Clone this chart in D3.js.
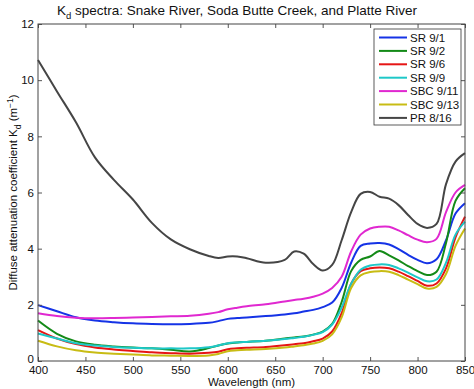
<!DOCTYPE html>
<html>
<head>
<meta charset="utf-8">
<script src="https://cdn.jsdelivr.net/npm/d3@7"></script>
<style>
  body { margin: 0; background: #fff; }
  svg { font-family: "Liberation Sans", Arial, sans-serif; }
</style>
</head>
<body>
<svg id="chart"></svg>
<script>
// wavelength grid (nm) shared by every series
const wavelengths = [400, 420, 440, 460, 480, 500, 520, 540, 560, 580, 590, 600, 610, 620, 640, 660, 670, 680, 690, 700,
  710, 720, 730, 740, 750, 760, 770, 780, 790, 800, 810, 820, 830, 840, 850]

const sr91 = [1.99, 1.77, 1.56, 1.44, 1.38, 1.34, 1.32, 1.31, 1.32, 1.36, 1.42, 1.50, 1.53, 1.55, 1.60, 1.66, 1.70, 1.76, 1.82, 1.92,
  2.08, 2.60, 3.50, 4.10, 4.18, 4.20, 4.15, 3.98, 3.78, 3.60, 3.48, 3.62, 4.30, 5.25, 5.62]
const sr92 = [1.44, 0.97, 0.70, 0.58, 0.52, 0.48, 0.45, 0.40, 0.34, 0.46, 0.55, 0.62, 0.66, 0.68, 0.72, 0.80, 0.84, 0.87, 0.94, 1.05,
  1.32, 2.10, 3.20, 3.60, 3.72, 3.92, 3.76, 3.58, 3.38, 3.20, 3.06, 3.18, 4.20, 5.70, 6.15]
const sr96 = [1.10, 0.80, 0.60, 0.48, 0.41, 0.36, 0.31, 0.28, 0.26, 0.29, 0.33, 0.42, 0.45, 0.47, 0.50, 0.56, 0.60, 0.63, 0.70, 0.80,
  1.05, 1.70, 2.75, 3.20, 3.30, 3.33, 3.30, 3.18, 3.02, 2.85, 2.68, 2.76, 3.30, 4.40, 5.14]
const sr99 = [0.98, 0.80, 0.63, 0.55, 0.50, 0.47, 0.45, 0.45, 0.45, 0.49, 0.55, 0.63, 0.66, 0.68, 0.72, 0.78, 0.82, 0.86, 0.93, 1.03,
  1.30, 1.90, 2.75, 3.25, 3.40, 3.44, 3.42, 3.30, 3.15, 2.98, 2.84, 2.90, 3.50, 4.50, 4.96]
const sbc911 = [1.70, 1.60, 1.54, 1.52, 1.53, 1.55, 1.57, 1.59, 1.61, 1.68, 1.74, 1.84, 1.90, 1.95, 2.02, 2.12, 2.17, 2.22, 2.29, 2.40,
  2.60, 3.00, 3.90, 4.50, 4.72, 4.78, 4.78, 4.65, 4.48, 4.32, 4.23, 4.35, 5.30, 6.00, 6.27]
const sbc913 = [0.72, 0.52, 0.38, 0.30, 0.26, 0.23, 0.20, 0.19, 0.18, 0.20, 0.25, 0.35, 0.38, 0.40, 0.43, 0.48, 0.52, 0.56, 0.62, 0.72,
  0.95, 1.55, 2.60, 3.05, 3.17, 3.20, 3.18, 3.06, 2.90, 2.74, 2.58, 2.64, 3.10, 4.10, 4.72]
const pr816 = [10.72, 9.60, 8.50, 7.25, 6.45, 5.75, 4.92, 4.33, 3.98, 3.74, 3.67, 3.72, 3.72, 3.66, 3.50, 3.60, 3.90, 3.82, 3.45, 3.22,
  3.42, 4.30, 5.30, 5.95, 6.02, 5.85, 5.78, 5.55, 5.20, 4.88, 4.74, 4.88, 6.30, 7.10, 7.40]

const seriesNames = ['SR 9/1', 'SR 9/2', 'SR 9/6', 'SR 9/9', 'SBC 9/11', 'SBC 9/13', 'PR 8/16']
const seriesValues = [sr91, sr92, sr96, sr99, sbc911, sbc913, pr816]
const seriesColors = ['#1533e6', '#138a17', '#e61515', '#1ec8c8', '#e028d0', '#c8bc14', '#454545']

const xTicks = [400, 450, 500, 550, 600, 650, 700, 750, 800, 850]
const yTicks = [0, 2, 4, 6, 8, 10, 12]

const W = 474, H = 389
const m = { left: 38, right: 9, top: 24, bottom: 28 }
const w = W - m.left - m.right
const h = H - m.top - m.bottom

const svg = d3.select('#chart').attr('width', W).attr('height', H)

const xScale = d3.scaleLinear().domain([400, 850]).range([0, w])
const yScale = d3.scaleLinear().domain([0, 12]).range([h, 0])

const g = svg.append('g').attr('transform', `translate(${m.left},${m.top})`)

// curves
const line = d3.line()
  .x((d, i) => xScale(wavelengths[i]))
  .y(d => yScale(d))
  .curve(d3.curveCatmullRom)

g.selectAll('path.series')
  .data(seriesValues)
  .enter()
  .append('path')
  .attr('class', 'series')
  .attr('d', d => line(d))
  .attr('fill', 'none')
  .attr('stroke', (d, i) => seriesColors[i])
  .attr('stroke-width', 2)

// axes, matlab-like box with inner ticks
const styleAxis = sel => {
  sel.select('.domain').remove()
  sel.selectAll('line').attr('stroke', '#555')
  sel.selectAll('text').attr('fill', '#111').style('font-size', '11.5px')
}

g.append('g')
  .attr('transform', `translate(0,${h})`)
  .call(d3.axisBottom(xScale).tickValues(xTicks).tickSize(-4).tickPadding(5))
  .call(styleAxis)
g.append('g')
  .call(d3.axisTop(xScale).tickValues(xTicks).tickSize(-4).tickFormat(''))
  .call(styleAxis)
g.append('g')
  .call(d3.axisLeft(yScale).tickValues(yTicks).tickSize(-4).tickPadding(4))
  .call(styleAxis)
  .selectAll('.tick text')
  .attr('dy', d => d === 0 ? '0.15em' : '0.32em')
g.append('g')
  .attr('transform', `translate(${w},0)`)
  .call(d3.axisRight(yScale).tickValues(yTicks).tickSize(-4).tickFormat(''))
  .call(styleAxis)

g.append('rect')
  .attr('width', w)
  .attr('height', h)
  .attr('fill', 'none')
  .attr('stroke', '#444')
  .attr('stroke-width', 1)

// title
const title = svg.append('text')
  .attr('x', W / 2)
  .attr('y', 15)
  .attr('text-anchor', 'middle')
  .style('font-size', '13.5px')
  .attr('fill', '#111')
title.append('tspan').text('K')
title.append('tspan').attr('dy', 4).style('font-size', '9.5px').text('d')
title.append('tspan').attr('dy', -4).text(' spectra: Snake River, Soda Butte Creek, and Platte River')

// axis labels
svg.append('text')
  .attr('x', m.left + w / 2)
  .attr('y', H - 3)
  .attr('text-anchor', 'middle')
  .style('font-size', '11.5px')
  .attr('fill', '#111')
  .text('Wavelength (nm)')

const yLab = svg.append('text')
  .attr('transform', `translate(17,${m.top + h / 2}) rotate(-90)`)
  .attr('text-anchor', 'middle')
  .style('font-size', '11.5px')
  .attr('fill', '#111')
yLab.append('tspan').text('Diffuse attenuation coefficient K')
yLab.append('tspan').attr('dy', 3.5).style('font-size', '8.5px').text('d')
yLab.append('tspan').attr('dy', -3.5).text(' (m')
yLab.append('tspan').attr('dy', -4.5).style('font-size', '8.5px').text('−1')
yLab.append('tspan').attr('dy', 4.5).text(')')

// legend
const leg = svg.append('g').attr('transform', 'translate(374,29)')
leg.append('rect')
  .attr('width', 87)
  .attr('height', 96)
  .attr('fill', '#fff')
  .attr('stroke', '#333')
  .attr('stroke-width', 0.8)

const item = leg.selectAll('g.item')
  .data(seriesNames)
  .enter()
  .append('g')
  .attr('class', 'item')
  .attr('transform', (d, i) => `translate(0,${8.5 + i * 13.4})`)
item.append('line')
  .attr('x1', 5).attr('x2', 33)
  .attr('stroke', (d, i) => seriesColors[i])
  .attr('stroke-width', 2)
item.append('text')
  .attr('x', 36)
  .attr('dy', '0.35em')
  .style('font-size', '11.5px')
  .attr('fill', '#111')
  .text(d => d)
</script>
</body>
</html>
